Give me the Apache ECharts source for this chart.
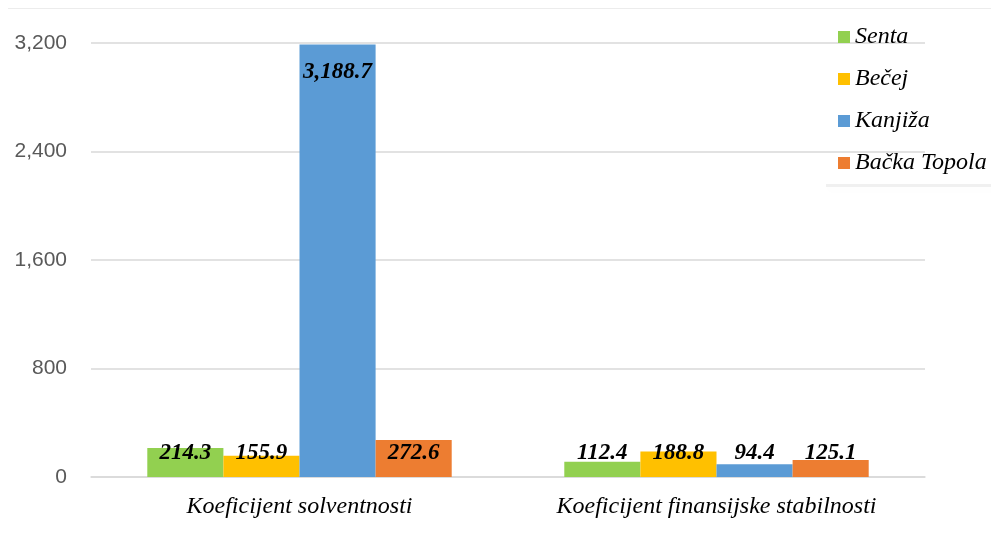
<!DOCTYPE html>
<html>
<head>
<meta charset="utf-8">
<script src="https://cdn.jsdelivr.net/npm/echarts@6/dist/echarts.min.js"></script>
<style>
  html, body { margin: 0; padding: 0; background: #fff; }
  #chart { width: 991px; height: 536px; }
</style>
</head>
<body>
<div id="chart"></div>
<script>
var categories = ['Koeficijent solventnosti', 'Koeficijent finansijske stabilnosti'];
var seriesNames = ['Senta', 'Bečej', 'Kanjiža', 'Bačka Topola'];
var senta = [214.3, 112.4];
var becej = [155.9, 188.8];
var kanjiza = [3188.7, 94.4];
var backaTopola = [272.6, 125.1];
var colors = ['#92D050', '#FFC000', '#5B9BD5', '#ED7D31'];

var serif = '"Liberation Serif", "DejaVu Serif", serif';

function fmt(v) {
  return v.toLocaleString('en-US', { minimumFractionDigits: 1, maximumFractionDigits: 1 });
}

function makeSeries(name, values, color) {
  return {
    name: name,
    type: 'bar',
    barGap: '0%',
    barCategoryGap: '27%',
    itemStyle: { color: color },
    label: {
      show: true,
      position: 'insideBottom',
      distance: 12,
      color: '#000',
      fontFamily: serif,
      fontStyle: 'italic',
      fontWeight: 'bold',
      fontSize: 23,
      formatter: function(p) { return fmt(p.value); }
    },
    data: values.map(function(v) {
      // the tall bar keeps its label at the top
      if (v > 1000) {
        return { value: v, label: { position: 'insideTop', distance: 16 } };
      }
      return v;
    })
  };
}

var chart = echarts.init(document.getElementById('chart'));
chart.setOption({
  animation: false,
  color: colors,
  grid: { left: 91, right: 66, top: 43, bottom: 59 },
  graphic: [
    {
      type: 'rect', silent: true,
      shape: { x: 8, y: 8, width: 983, height: 1 },
      style: { fill: '#ececec' }
    },
    {
      // soft shadow under the legend box
      type: 'rect', silent: true,
      shape: { x: 826, y: 184, width: 170, height: 3 },
      style: { fill: 'rgba(0,0,0,0.06)', shadowBlur: 8, shadowOffsetY: 3, shadowColor: 'rgba(0,0,0,0.4)' }
    }
  ],
  legend: {
    orient: 'vertical',
    left: 833,
    top: 20,
    itemWidth: 12,
    itemHeight: 12,
    itemGap: 18,
    icon: 'rect',
    data: seriesNames,
    textStyle: {
      fontFamily: serif,
      fontStyle: 'italic',
      fontSize: 24,
      color: '#000'
    }
  },
  xAxis: {
    type: 'category',
    data: categories,
    axisLine: { lineStyle: { color: '#d9d9d9', width: 1.5 } },
    axisTick: { show: false },
    axisLabel: {
      margin: 18,
      color: '#000',
      fontFamily: serif,
      fontStyle: 'italic',
      fontSize: 24
    }
  },
  yAxis: {
    type: 'value',
    min: 0,
    max: 3200,
    interval: 800,
    axisLine: { show: false },
    axisTick: { show: false },
    splitLine: { lineStyle: { color: '#d9d9d9', width: 1.5 } },
    axisLabel: {
      margin: 24,
      color: '#595959',
      fontFamily: '"Liberation Sans", Arial, sans-serif',
      fontSize: 21,
      formatter: function(v) { return v.toLocaleString('en-US'); }
    }
  },
  series: [
    makeSeries(seriesNames[0], senta, colors[0]),
    makeSeries(seriesNames[1], becej, colors[1]),
    makeSeries(seriesNames[2], kanjiza, colors[2]),
    makeSeries(seriesNames[3], backaTopola, colors[3])
  ]
});
</script>
</body>
</html>
